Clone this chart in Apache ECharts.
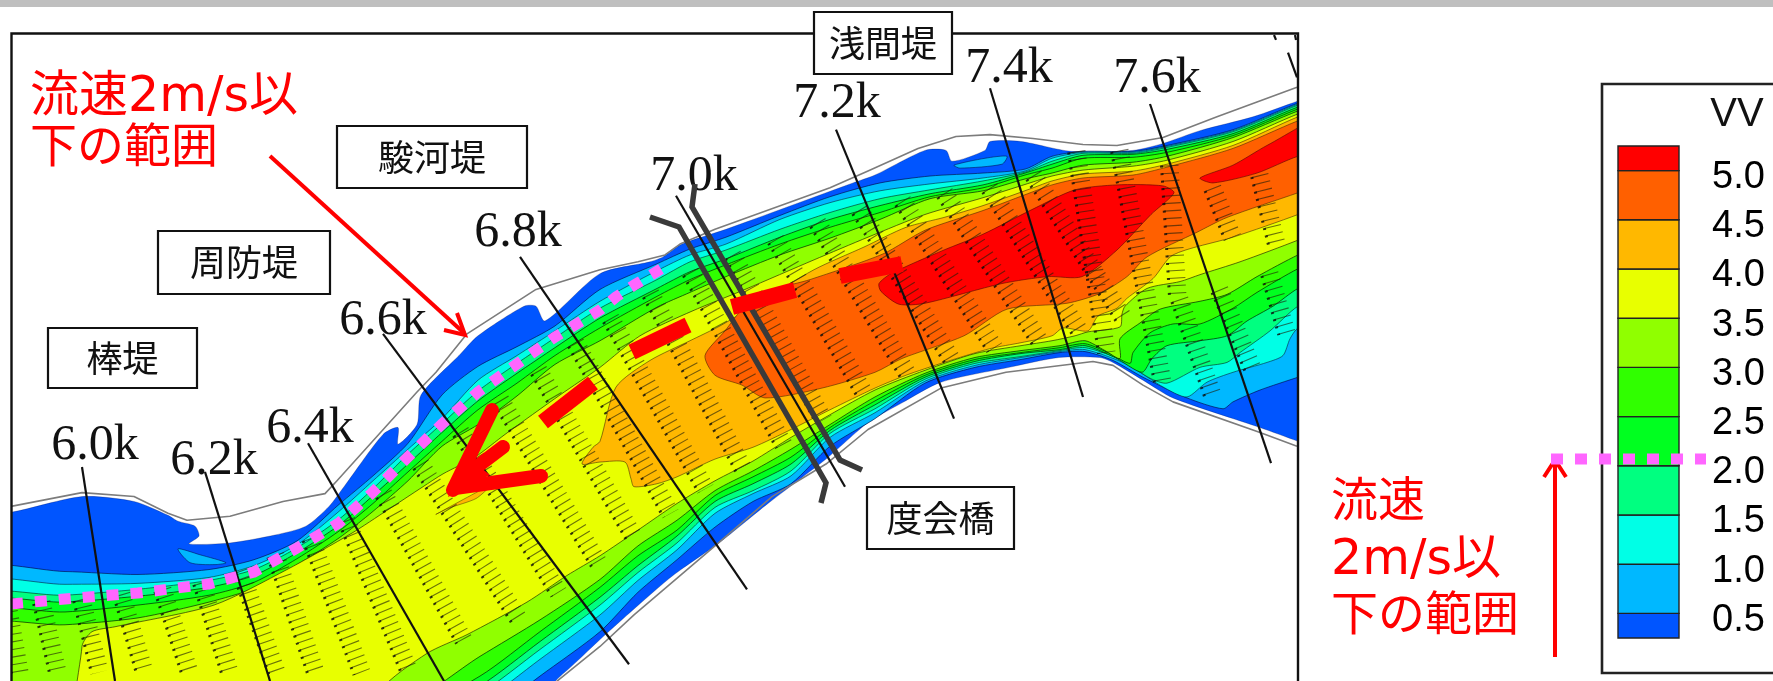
<!DOCTYPE html>
<html><head><meta charset="utf-8">
<style>html,body{margin:0;padding:0;background:#fff}#c{width:1773px;height:681px}</style>
<script src="https://cdn.jsdelivr.net/npm/echarts@6/dist/echarts.min.js"></script>
</head><body><div id="c"></div>
<script>
// ---- legend ----
const legendTicks=[0.5,1.0,1.5,2.0,2.5,3.0,3.5,4.0,4.5,5.0];
const legendBreaks=[0.25,0.5,1.0,1.5,2.0,2.5,3.0,3.5,4.0,4.5,5.0,5.25];
const legendColors=['#0055ff','#00b8ff','#00ffe6','#00ff80','#00ff20','#30ff00','#90ff00','#e8ff00','#ffb800','#ff6000','#ff0000'];
const legendTitle='VV';
// ---- contour boundaries, north bank (shared x positions) ----
const northXs=[-40,65,138,209,254,297,339,373,408,442,478,517,555,600,657,690,726,780,830,880,930,983,1025,1052,1083,1133,1167,1233,1298,1340];
const north05=[579,579,582,577,567,548,511,482,449,400,371,351,330,293,267,252,240,218,199,185,178,175,171,158,153,153,147,131,104,90];
const north10=[593,592,591,585,573,552,518,487,455,424,385,360,335,305,274,258,247,222,205,193,186,180,173,160,154,154,148,132,105,91];
const north15=[606,603,597,588,577,555,526,495,460,429,396,368,342,312,283,265,253,232,215,201,192,183,174,163,155,155,149,133,106,92];
const north20=[613,610,604,595,583,560,532,502,470,438,406,378,352,322,292,275,262,240,222,208,196,187,175,166,157,156,151,135,108,94];
const north25=[622,620,613,603,590,566,538,510,478,447,415,388,360,332,300,283,268,247,230,215,199,190,177,170,160,159,154,137,110,96];
const north30=[636,633,626,610,596,572,545,518,487,452,430,401,369,345,311,296,280,258,241,222,201,193,181,175,167,164,158,139,112,98];
// ---- contour boundaries, south bank ----
const southXs=[400,480,540,600,638,677,715,753,791,830,875,925,975,1021,1060,1085];
const south30=[715,665,628,587,553,527,497,477,455,430,402,378,362,355,350,345];
const south25=[725,685,640,595,563,537,502,483,463,433,406,380,364,357,352,348];
const south20=[735,695,650,605,573,543,508,490,470,436,410,382,366,358,354,350];
const south15=[745,703,658,613,580,550,514,497,477,439,414,384,368,361,355,352];
const south10=[755,713,668,623,588,557,520,500,482,443,418,386,370,362,356,354];
const south05=[770,730,685,640,600,567,534,508,490,452,424,388,372,364,357,356];
// bay on the right-hand bend
const fan30=[[1105,355],[1120,363],[1120,343],[1140,327],[1160,313],[1200,305],[1227,298],[1257,280],[1298,258],[1340,240]];
const fan25=[[1110,358],[1130,368],[1133,357],[1150,337],[1173,328],[1200,328],[1233,312],[1257,296],[1298,272],[1340,254]];
const fan20=[[1115,362],[1142,377],[1152,363],[1167,350],[1200,345],[1227,340],[1247,325],[1273,310],[1298,292],[1340,274]];
const fan15=[[1120,364],[1150,383],[1167,388],[1200,372],[1227,367],[1240,357],[1270,335],[1298,310],[1340,292]];
const fan10=[[1125,368],[1165,393],[1187,402],[1207,387],[1233,377],[1267,367],[1283,360],[1290,343],[1298,332],[1340,310]];
const fan05=[[1113,365],[1143,382],[1187,403],[1223,414],[1233,407],[1260,395],[1298,382],[1340,368]];
// outer water edge
const water=[[-40,524],[11,519],[82,503],[134,508],[168,522],[178,528],[195,533],[199,543],[189,551],[230,550],[275,542],[306,533],[329,513],[344,493],[383,440],[398,433],[398,450],[417,430],[421,400],[459,360],[478,340],[524,310],[536,310],[545,325],[600,277],[650,265],[663,260],[682,247],[726,232],[853,185],[875,177],[925,152],[946,152],[952,163],[985,152],[990,143],[1021,143],[1071,153],[1133,152],[1163,145],[1200,132],[1253,118],[1298,102],[1340,88],
 [1340,463],[1298,447],[1260,433],[1173,403],[1143,385],[1113,367],[1100,362],[1059,362],[1009,372],[941,387],[902,408],[868,428],[826,465],[768,510],[719,550],[673,583],[634,617],[600,648],[565,681],[520,716],[-40,760]];
// higher-speed zones
const zone35=[[82,760],[82,655],[92,640],[115,635],[214,613],[287,577],[352,540],[387,517],[423,493],[443,480],[475,463],[505,440],[560,400],[600,372],[640,340],[692,315],[745,293],[814,263],[868,240],[925,217],[983,200],[1033,184],[1052,178],[1083,172],[1133,168],[1167,162],[1233,143],[1298,115],[1340,101],
 [1340,225],[1298,243],[1240,265],[1200,278],[1180,285],[1147,292],[1125,310],[1122,318],[1120,331],[1088,336],[1075,340],[1052,345],[1021,350],[975,358],[925,375],[875,395],[830,420],[791,443],[753,467],[715,487],[677,510],[638,537],[600,563],[567,583],[527,610],[467,643],[427,662],[380,700],[360,760]];
const zone40=[[616,392],[650,365],[690,345],[720,330],[753,310],[814,273],[864,250],[906,230],[944,220],[983,208],[1033,190],[1052,183],[1083,176],[1133,173],[1167,166],[1233,147],[1298,118],[1340,104],
 [1340,199],[1298,217],[1233,240],[1173,258],[1153,282],[1127,302],[1117,312],[1098,320],[1088,335],[1063,332],[1052,340],[1021,347],[990,353],[944,367],[906,380],[875,393],[830,415],[791,435],[753,453],[715,465],[677,483],[657,490],[634,493],[631,485],[625,468],[600,468],[582,470],[593,453],[600,447]];
const wedge40=[[436,521],[490,492],[476,505],[448,515]];
const zone45=[[725,335],[745,310],[775,293],[810,283],[883,257],[925,233],[983,213],[1025,197],[1052,187],[1083,180],[1133,177],[1167,169],[1233,150],[1298,122],[1340,108],
 [1340,180],[1298,195],[1227,220],[1197,235],[1147,260],[1127,280],[1100,297],[1067,307],[1007,313],[964,340],[902,363],[875,377],[822,393],[765,403],[742,390],[715,380],[705,360]];
const zone50a=[[879,287],[891,277],[944,253],[983,237],[1032,212],[1075,192],[1117,187],[1163,188],[1174,195],[1151,217],[1117,253],[1082,280],[1048,280],[1002,287],[925,307],[899,308],[881,295]];
const zone50b=[[1200,180],[1233,167],[1267,147],[1340,110],[1340,150],[1298,158],[1257,175],[1213,185]];
const islandA=[[178,556],[200,562],[226,570],[215,572],[190,570]];
const islandB=[[954,167],[985,160],[1007,158],[1002,166],[960,170]];
// columns of velocity vectors: north end and south end of each column
const vectorColumns=[[8,612,20,681],[42,610,58,681],[82,607,100,681],[122,602,145,681],[163,597,190,681],[202,590,230,681],[241,578,277,681],[276,562,316,681],[311,545,362,681],[347,527,410,681],[384,500,464,648],[421,470,521,630],[461,437,559,600],[501,405,599,570],[539,375,634,543],[576,347,671,520],[611,322,706,495],[651,297,744,475],[691,275,784,450],[733,258,824,425],[776,242,866,400],[818,225,909,380],[860,212,953,365],[903,203,995,352],[945,195,1040,345],[990,190,1080,335],[1034,177,1126,325],[1077,153,1107,357],[1120,152,1163,387],[1170,167,1178,300],[1180,303,1213,400],[1213,190,1233,240],[1220,293,1253,373],[1260,177,1277,247],[1270,277,1287,337]];
// cross-section lines
const stationNames=['6.0k','6.2k','6.4k','6.6k','6.8k','7.0k','7.2k','7.4k','7.6k'];
const stationLabelPos=[[95,446],[214,461],[310,429],[383,321],[518,233],[694,177],[837,104],[1009,69],[1157,79]];
const stationLines=[[82,473,115,690],[205,478,270,690],[308,449,444,690],[383,338,629,673],[520,260,747,597],[676,198,845,493],[836,131,954,424],[990,89,1083,402],[1150,105,1271,469],[1288,53,1297,78],[1274,35,1276,40],[1295,35,1296,40]];
const northLevee=[[-40,530],[11,513],[82,499],[134,503],[168,520],[187,527],[230,523],[283,508],[325,500],[337,487],[417,397],[436,377],[467,338],[536,293],[600,273],[638,265],[665,258],[680,247],[715,232],[830,190],[868,173],[918,150],[956,138],[990,136],[1033,140],[1083,146],[1117,147],[1163,139],[1217,118],[1297,88]];
const southLevee=[[545,700],[600,655],[634,623],[715,553],[772,503],[826,470],[868,435],[941,393],[1006,377],[1093,366],[1113,370],[1143,390],[1173,407],[1260,438],[1297,452]];
// annotations
const boxes=[['駿河堤',337,126,527,188],['周防堤',158,231,330,294],['棒堤',48,328,197,388],['浅間堤',814,12,952,74],['度会橋',867,487,1014,549]];
const redTexts=[['流速2m/s以',30,98],['下の範囲',30,150],['流速',1331,504],['2m/s以',1331,561],['下の範囲',1331,618]];
const dottedPath=[[11,604],[65,599],[138,593],[209,584],[254,572],[297,548],[339,523],[373,492],[408,457],[442,424],[478,392],[517,364],[555,337],[600,310],[616,297],[636,284],[661,269]];
const dottedLegend=[[1551,459],[1706,459]];
const redDashes=[[[840,276],[902,264]],[[732,307],[795,290]],[[632,352],[688,325]],[[543,422],[593,383]]];
const bridgeLines=[[[650,217],[679,227],[826,483],[821,503]],[[695,184],[692,207],[840,460],[862,470]]];
const thinArrow=[[270,156],[464,333]];
const thinArrowHead=[[444,330],[465,335],[457,313]];
const uprightArrow=[[1555,657],[1555,462]];
const uprightArrowHead=[[1544,477],[1555,460],[1566,477]];
const bigArrowParts=[[[492,410],[453,490]],[[455,488],[541,476]],[[470,472],[503,447]]];
const bigArrowTip=[[448,497],[465,455],[490,475]];
const frameMain=[[11.5,690],[11.5,33.5],[1298,33.5],[1298,690]];
const frameLegend=[[1790,84],[1602,84],[1602,673],[1790,673]];
const topBar=[0,0,1773,7];

const join=(xs,ys,extra)=>xs.map((x,i)=>[x,ys[i]]).concat(extra||[]);
const band=(nv,sv,fan)=>join(northXs,nv).concat(join(southXs,sv,fan).reverse(),[[-40,800]]);
const bands=[
 {poly:water,color:legendColors[0],line:'rgba(0,0,60,.25)'},
 {poly:islandA,color:legendColors[1],line:'rgba(0,0,60,.5)'},
 {poly:islandB,color:legendColors[1],line:'rgba(0,0,60,.5)'},
 {poly:band(north05,south05,fan05),color:legendColors[1],line:'rgba(0,0,60,.6)'},
 {poly:band(north10,south10,fan10),color:legendColors[2],line:'rgba(0,40,60,.6)'},
 {poly:band(north15,south15,fan15),color:legendColors[3],line:'rgba(0,40,30,.6)'},
 {poly:band(north20,south20,fan20),color:legendColors[4],line:'rgba(0,40,0,.7)'},
 {poly:band(north25,south25,fan25),color:legendColors[5],line:'rgba(0,40,0,.7)'},
 {poly:band(north30,south30,fan30),color:legendColors[6],line:'rgba(0,40,0,.7)'},
 {poly:zone35,color:legendColors[7],line:'rgba(40,50,0,.7)'},
 {poly:wedge40,color:legendColors[8],line:'rgba(70,50,0,.5)'},
 {poly:zone40,color:legendColors[8],line:'rgba(70,50,0,.6)'},
 {poly:zone45,color:legendColors[9],line:'rgba(80,40,0,.6)'},
 {poly:zone50a,color:legendColors[10],line:'rgba(90,0,0,.6)'},
 {poly:zone50b,color:legendColors[10],line:'rgba(90,0,0,.6)'}
];
const CJK='"Noto Sans CJK JP","Noto Sans"';
const RED_FONT='"DejaVu Sans","Noto Sans CJK JP"';
const pts=(api,a)=>a.map(p=>api.coord(p));
const chart=echarts.init(document.getElementById('c'),null,{renderer:'canvas'});
const hidden=(g,min,max,inv)=>({type:'value',gridIndex:g,min,max,inverse:!!inv,show:false,scale:false});
const custom=(grid,z,list,fn,clip)=>({type:'custom',xAxisIndex:grid,yAxisIndex:grid,z,clip:!!clip,silent:true,animation:false,
  data:list.map((_,i)=>[i]),renderItem:(p,api)=>fn(list[p.dataIndex],api,p.dataIndex)});
const line=(api,a,style)=>({type:'polyline',shape:{points:pts(api,a)},style:Object.assign({fill:null,lineJoin:'miter'},style)});
chart.setOption({
 animation:false,backgroundColor:'#fff',
 grid:[
  {left:0,top:0,width:1773,height:681},
  {left:11.5,top:33.5,width:1286.5,height:656.5},
  {left:1618,top:121.4,width:61,height:541.2}
 ],
 xAxis:[hidden(0,0,1773),hidden(1,11.5,1298),{type:'value',gridIndex:2,min:0,max:1,show:false}],
 yAxis:[hidden(0,0,681,true),hidden(1,33.5,690,true),
  {type:'value',gridIndex:2,min:0,max:5.5,interval:0.5,show:false}],
 series:[
  custom(0,0,[topBar],(b,api)=>{const a=api.coord([b[0],b[1]]),c=api.coord([b[2],b[3]]);
    return {type:'rect',shape:{x:a[0],y:a[1],width:c[0]-a[0],height:c[1]-a[1]},style:{fill:'#bfbfbf'}};}),
  custom(1,1,bands,(b,api)=>({type:'polygon',shape:{points:pts(api,b.poly),smooth:0.25},style:{fill:b.color,stroke:b.line,lineWidth:1}}),true),
  custom(1,2,vectorColumns,(c,api)=>{
    const a=api.coord([c[0],c[1]]),e=api.coord([c[2],c[3]]);
    const dx=e[0]-a[0],dy=e[1]-a[1],l=Math.hypot(dx,dy),nx=dy/l,ny=-dx/l,W=17;
    return {type:'group',children:[
      {type:'polyline',shape:{points:[a,e]},style:{fill:null,stroke:'rgba(30,30,10,.62)',lineWidth:W,lineDash:[1.1,6.4]}},
      {type:'polyline',shape:{points:[[a[0]-nx*W/2,a[1]-ny*W/2],[e[0]-nx*W/2,e[1]-ny*W/2]]},style:{fill:null,stroke:'rgba(10,10,10,.8)',lineWidth:3,lineDash:[2,5.5]}}
    ]};},true),
  custom(1,3,[northLevee,southLevee],(a,api)=>line(api,a,{stroke:'#7c7c7c',lineWidth:1.6,lineJoin:'round'}),true),
  custom(1,4,stationLines,(c,api)=>({type:'line',shape:{x1:api.coord([c[0],c[1]])[0],y1:api.coord([c[0],c[1]])[1],x2:api.coord([c[2],c[3]])[0],y2:api.coord([c[2],c[3]])[1]},style:{stroke:'#111',lineWidth:2.2}}),true),
  custom(0,5,stationNames,(n,api,i)=>{const p=api.coord(stationLabelPos[i]);
    return {type:'text',style:{text:n,x:p[0],y:p[1],fill:'#111',fontFamily:'Liberation Serif',fontSize:50,align:'center',verticalAlign:'middle'}};}),
  custom(0,6,[dottedPath],(a,api)=>line(api,a,{stroke:'#ff66ff',lineWidth:11,lineDash:[12,12]})),
  custom(0,7,bridgeLines,(a,api)=>line(api,a,{stroke:'#3a3a3a',lineWidth:5.5})),
  custom(0,8,redDashes,(a,api)=>line(api,a,{stroke:'#ff0000',lineWidth:16})),
  custom(0,8,bigArrowParts,(a,api)=>line(api,a,{stroke:'#ff0000',lineWidth:14,lineCap:'round'})),
  custom(0,8,[bigArrowTip],(a,api)=>({type:'polygon',shape:{points:pts(api,a)},style:{fill:'#ff0000'}})),
  custom(0,8,[thinArrow,thinArrowHead,uprightArrow,uprightArrowHead],(a,api)=>line(api,a,{stroke:'#ff0000',lineWidth:4})),
  custom(0,9,[frameMain],(a,api)=>line(api,a,{stroke:'#111',lineWidth:2.4})),
  custom(0,9,[frameLegend],(a,api)=>line(api,a,{stroke:'#222',lineWidth:2.6})),
  custom(0,10,boxes,(b,api)=>{const a=api.coord([b[1],b[2]]),c=api.coord([b[3],b[4]]);
    return {type:'group',children:[
      {type:'rect',shape:{x:a[0],y:a[1],width:c[0]-a[0],height:c[1]-a[1]},style:{fill:'#fff',stroke:'#111',lineWidth:2.2}},
      {type:'text',style:{text:b[0],x:(a[0]+c[0])/2,y:(a[1]+c[1])/2,fill:'#111',fontFamily:CJK,fontSize:36,align:'center',verticalAlign:'middle'}}]};}),
  custom(0,10,redTexts,(t,api)=>{const p=api.coord([t[1],t[2]]);
    return {type:'text',style:{text:t[0],x:p[0],y:p[1],fill:'#ff0000',fontFamily:RED_FONT,fontSize:t[0].includes('2m')?49:47,align:'left',verticalAlign:'middle'}};}),
  custom(0,10,[legendTitle],(t,api)=>{const p=api.coord([1737,115]);
    return {type:'text',style:{text:t,x:p[0],y:p[1],fill:'#111',fontFamily:'Liberation Sans',fontSize:40,align:'center',verticalAlign:'middle'}};}),
  {type:'custom',xAxisIndex:2,yAxisIndex:2,z:11,silent:true,animation:false,
   data:legendColors.map((_,i)=>[i]),
   renderItem:(p,api)=>{const i=p.dataIndex,a=api.coord([0,legendBreaks[i+1]]),c=api.coord([1,legendBreaks[i]]);
     return {type:'rect',shape:{x:a[0],y:a[1],width:c[0]-a[0],height:c[1]-a[1]},style:{fill:legendColors[i],stroke:'#222',lineWidth:1.4}};}},
  {type:'custom',xAxisIndex:2,yAxisIndex:2,z:11,silent:true,animation:false,
   data:legendTicks.map((_,i)=>[i]),
   renderItem:(p,api)=>{const v=legendTicks[p.dataIndex],c=api.coord([1,v]);
     return {type:'text',style:{text:v.toFixed(1),x:c[0]+33,y:c[1]+7,fill:'#000',fontFamily:'Liberation Sans',fontSize:38,align:'left',verticalAlign:'middle'}};}},
  custom(0,12,[dottedLegend],(a,api)=>line(api,a,{stroke:'#ff66ff',lineWidth:11,lineDash:[12,12]}))
 ]
});
</script></body></html>
